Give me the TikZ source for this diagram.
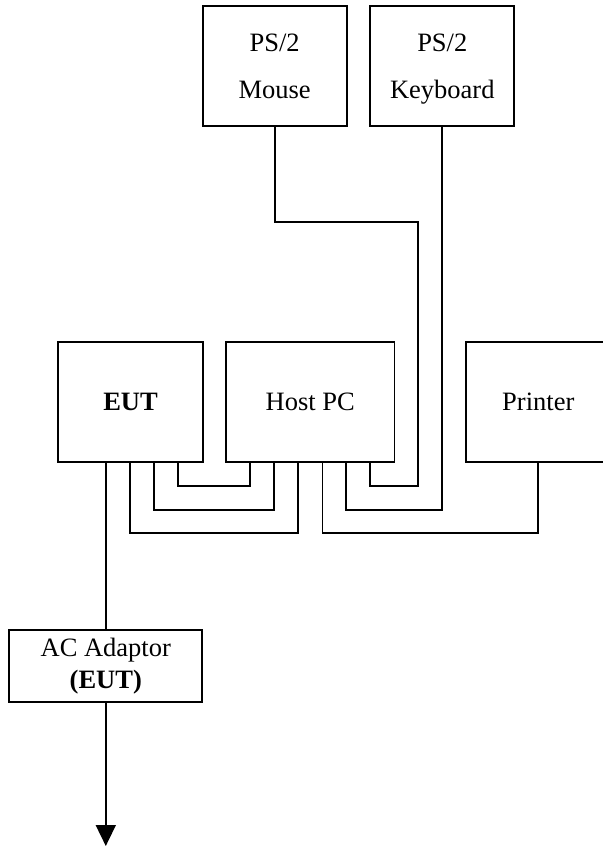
\documentclass[tikz,border=0pt]{standalone}
\usepackage{fontspec}
\setmainfont{Liberation Serif}
\usetikzlibrary{arrows.meta}
\begin{document}
\begin{tikzpicture}[x=0.5pt,y=-0.5pt,
  box/.style={draw=black,line width=0.85pt,inner sep=0pt,align=center,
    font=\fontsize{13.25pt}{23.5pt}\selectfont},
  wire/.style={draw=black,line width=0.85pt}]
\useasboundingbox (0,0) rectangle (603,848);
\fill[white] (0,0) rectangle (603,848);
\clip (0,0) rectangle (603,848);
% boxes
\node[box,minimum width=72pt,minimum height=60pt,text depth=0pt] (mouse) at (274.7,66) {PS/2\\Mouse};
\node[box,minimum width=72pt,minimum height=60pt,text depth=0pt] (kbd) at (442.3,66) {PS/2\\Keyboard};
\node[box,minimum width=72.2pt,minimum height=60pt] (eut) at (130.5,402) {\textbf{EUT}};
\node[box,minimum width=84.15pt,minimum height=60pt] (host) at (310.2,402) {Host PC};
\node[box,minimum width=72pt,minimum height=60pt] (printer) at (538.3,402) {Printer};
\node[box,minimum width=96.5pt,minimum height=35.85pt,
  font=\fontsize{13.25pt}{16pt}\selectfont] (ac) at (105.8,666) {AC Adaptor\\\textbf{(EUT)}};
% column / row coordinates
\coordinate (x130) at (130,0);
\coordinate (x154) at (154.3,0);
\coordinate (x178) at (178,0);
\coordinate (x250) at (250.3,0);
\coordinate (x274) at (273.7,0);
\coordinate (x298) at (297.7,0);
\coordinate (x322) at (322.5,0);
\coordinate (x346) at (346,0);
\coordinate (x370) at (370,0);
\coordinate (x418) at (418,0);
\coordinate (y222) at (0,222);
\coordinate (y486) at (0,485.7);
\coordinate (y510) at (0,510);
\coordinate (y533) at (0,533.3);
\coordinate (gnd) at (105.8,846);
% EUT <-> Host PC
\draw[wire] (eut.south -| x178) -- (x178 |- y486) -- (x250 |- y486) -- (host.south -| x250);
\draw[wire] (eut.south -| x154) -- (x154 |- y510) -- (x274 |- y510) -- (host.south -| x274);
\draw[wire] (eut.south -| x130) -- (x130 |- y533) -- (x298 |- y533) -- (host.south -| x298);
% Host PC <-> Mouse
\draw[wire] (host.south -| x370) -- (x370 |- y486) -- (x418 |- y486) -- (x418 |- y222)
  -- (mouse.south |- y222) -- (mouse.south);
% Host PC <-> Keyboard
\draw[wire] (host.south -| x346) -- (x346 |- y510) -- (kbd.south |- y510) -- (kbd.south);
% Host PC <-> Printer
\draw[wire] (host.south -| x322) -- (x322 |- y533) -- (printer.south |- y533) -- (printer.south);
% EUT <-> AC adaptor
\draw[wire] (eut.south -| ac.north) -- (ac.north);
\draw[wire,-{Triangle[width=10pt,length=10.5pt]}] (ac.south) -- (gnd);
\end{tikzpicture}
\end{document}
